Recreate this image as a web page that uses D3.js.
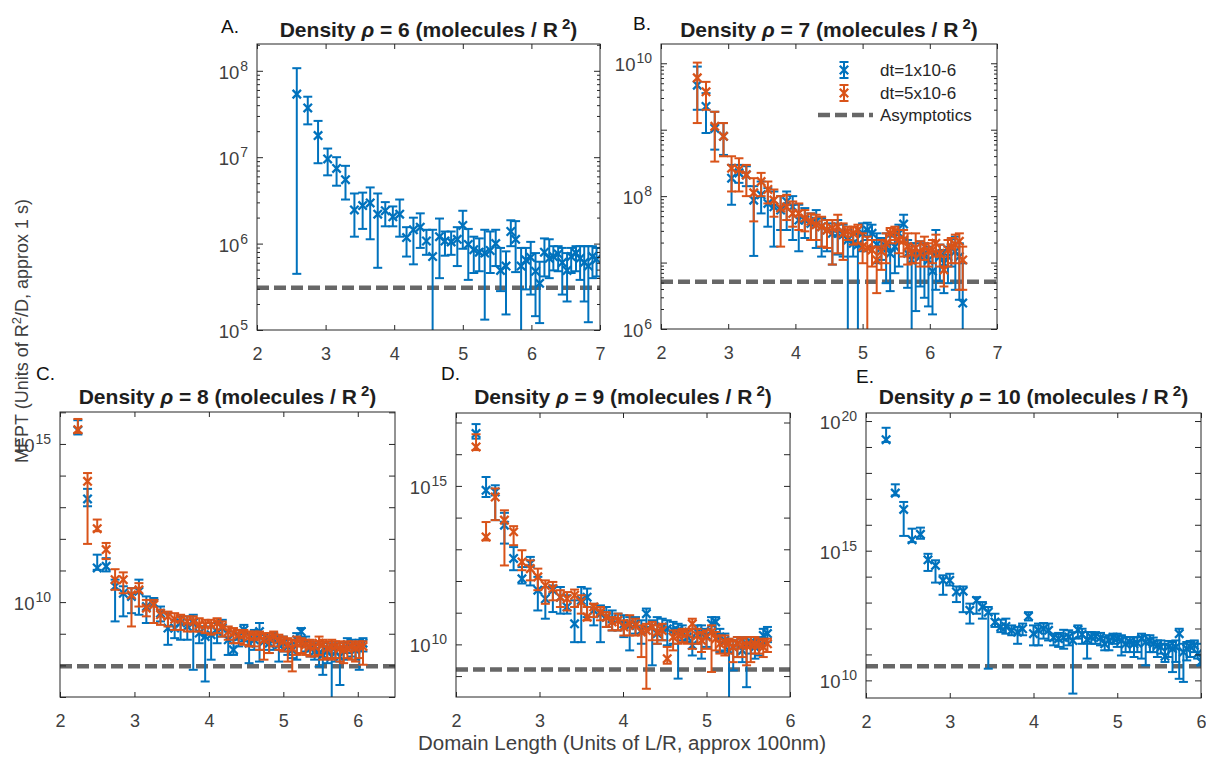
<!DOCTYPE html>
<html>
<head>
<meta charset="utf-8">
<script src="https://cdn.jsdelivr.net/npm/d3@7"></script>
<style>
  body { margin: 0; background: #fff; }
</style>
</head>
<body>
<svg id="chart" width="1206" height="757"></svg>
<script>
// MFPT vs domain length, five densities. y values are stored as log10(MFPT).
const densities = [6, 7, 8, 9, 10];
const panelLetters = ['A.', 'B.', 'C.', 'D.', 'E.'];
const seriesNames = ['dt=1x10-6', 'dt=5x10-6', 'Asymptotics'];
const asymptoteLog = [5.49, 6.71, 7.97, 9.21, 10.54];

// A: rho = 6 (only dt=1e-6)
const lenA = [2.58,2.74,2.89,3.03,3.16,3.29,3.42,3.54,3.65,3.76,3.87,3.98,4.08,4.18,4.28,4.38,4.47,4.56,4.66,4.74,4.83,4.92,5.00,5.08,5.16,5.24,5.32,5.40,5.48,5.55,5.63,5.70,5.77,5.85,5.92,5.99,6.06,6.12,6.19,6.26,6.32,6.39,6.45,6.52,6.58,6.65,6.71,6.77,6.83,6.89,6.95];
const meanA1 = [7.73,7.57,7.25,6.98,6.87,6.74,6.39,6.44,6.47,6.34,6.38,6.31,6.34,6.07,6.16,6.19,6.03,5.85,6.08,6.03,6.02,6.05,6.21,5.99,5.93,5.90,5.89,5.92,6.00,5.69,5.74,6.14,6.05,5.74,5.81,5.84,5.68,5.54,5.90,5.83,5.85,5.88,5.78,5.69,5.85,5.89,5.83,5.78,5.74,5.85,5.82];
const hiA1 = [8.03,7.70,7.42,7.10,7.00,6.90,6.58,6.59,6.65,6.58,6.48,6.43,6.51,6.19,6.30,6.35,6.16,6.16,6.29,6.14,6.14,6.19,6.38,6.17,6.08,6.06,6.16,6.14,6.16,5.95,5.91,6.27,6.26,5.95,5.95,6.02,5.89,5.79,6.06,6.05,5.97,5.97,5.95,5.89,5.95,5.97,5.97,5.97,5.97,5.97,5.95];
const loA1 = [5.65,7.38,6.93,6.79,6.67,6.51,6.08,6.17,6.05,5.72,6.20,6.20,6.08,5.85,5.76,5.95,5.87,4.5,5.60,5.86,5.87,5.74,5.94,5.58,5.66,5.68,5.12,5.66,5.74,5.45,5.18,5.97,5.67,4.5,5.47,5.41,5.16,5.08,5.62,5.60,5.69,5.68,5.41,5.33,5.66,5.68,5.58,5.33,5.09,5.60,5.62];

// B: rho = 7
const lenB = [2.54,2.67,2.80,2.93,3.05,3.16,3.27,3.38,3.49,3.59,3.68,3.78,3.87,3.96,4.05,4.14,4.23,4.31,4.39,4.47,4.55,4.63,4.71,4.78,4.86,4.93,5.00,5.07,5.14,5.21,5.28,5.35,5.41,5.48,5.54,5.61,5.67,5.73,5.79,5.86,5.92,5.98,6.04,6.09,6.15,6.21,6.27,6.32,6.38,6.44,6.49];
const meanB1 = [9.67,9.35,9.02,8.90,8.27,8.35,8.32,7.94,8.02,7.89,7.84,7.79,7.92,7.84,7.64,7.64,7.59,7.62,7.54,7.49,7.44,7.44,7.42,7.34,7.29,7.27,7.44,7.49,7.44,7.27,7.22,7.24,7.14,7.24,7.44,7.58,7.14,7.04,7.12,7.09,7.14,7.04,6.87,7.14,7.09,6.99,7.09,7.22,7.17,7.09,6.39];
const hiB1 = [9.95,9.55,9.27,9.10,8.47,8.47,8.45,8.15,8.22,8.12,8.07,8.00,8.07,8.00,7.87,7.82,7.74,7.79,7.67,7.64,7.59,7.64,7.57,7.49,7.44,7.42,7.59,7.60,7.57,7.44,7.37,7.44,7.39,7.42,7.57,7.72,7.34,7.29,7.29,7.32,7.29,7.24,7.14,7.49,7.27,7.19,7.24,7.35,7.39,7.29,6.99];
const loB1 = [9.30,8.95,8.70,8.62,7.87,8.20,8.15,7.10,7.74,7.54,7.24,7.49,7.49,7.34,7.17,7.37,7.34,7.22,7.09,7.17,6.97,7.12,7.09,5.5,7.09,5.5,7.17,7.34,7.24,6.99,7.04,6.69,6.57,6.84,6.94,7.37,6.62,5.5,6.27,6.64,6.47,6.34,6.22,6.59,6.72,6.54,6.69,6.94,6.59,6.44,5.5];
const meanB5 = [9.78,9.57,9.05,8.90,8.42,8.40,8.32,8.05,8.22,8.10,7.94,7.82,7.84,7.74,7.74,7.67,7.62,7.57,7.54,7.49,7.52,7.54,7.44,7.47,7.44,7.49,7.24,7.22,7.19,7.04,7.17,7.29,7.44,7.47,7.34,7.34,7.24,7.14,7.22,7.14,7.24,7.17,7.19,7.29,7.14,6.89,7.19,7.24,7.27,7.32,7.04];
const hiB5 = [10.01,9.72,9.27,9.10,8.60,8.57,8.47,8.27,8.35,8.22,8.10,8.00,8.02,7.92,7.89,7.79,7.74,7.72,7.69,7.64,7.64,7.72,7.59,7.54,7.54,7.57,7.44,7.39,7.34,7.24,7.34,7.44,7.52,7.54,7.49,7.49,7.44,7.24,7.44,7.32,7.39,7.29,7.34,7.42,7.27,7.09,7.34,7.37,7.42,7.44,7.24];
const loB5 = [9.10,9.30,8.52,8.60,8.07,8.07,8.00,7.62,8.00,7.89,7.69,7.24,7.64,7.54,7.49,7.47,7.34,7.34,7.24,7.22,6.97,7.14,7.04,7.34,7.27,7.29,6.99,5.5,6.94,6.54,6.89,6.99,7.29,7.34,7.14,7.09,6.97,6.99,6.99,6.94,7.04,6.94,6.99,7.09,6.94,6.64,6.94,6.99,6.99,6.59,6.59];

// C: rho = 8
const lenC = [2.24,2.37,2.50,2.62,2.74,2.85,2.96,3.06,3.16,3.26,3.35,3.45,3.54,3.62,3.71,3.79,3.87,3.95,4.03,4.11,4.18,4.26,4.33,4.40,4.47,4.54,4.61,4.68,4.74,4.81,4.87,4.94,5.00,5.06,5.12,5.18,5.24,5.30,5.36,5.42,5.48,5.53,5.59,5.65,5.70,5.76,5.81,5.86,5.92,5.97,6.02,6.07];
const meanC1 = [15.43,13.26,11.08,11.13,10.50,10.28,10.18,10.34,9.86,9.97,9.65,9.18,9.18,9.34,9.23,9.34,9.02,8.91,8.97,9.07,9.18,8.81,8.49,8.91,9.12,8.70,8.81,9.07,8.76,8.70,8.81,8.65,8.70,8.60,8.49,8.81,9.07,8.70,8.54,8.44,8.39,8.33,8.44,8.28,8.44,8.28,8.49,8.65,8.60,8.49,8.54,8.70];
const hiC1 = [15.75,13.58,11.50,11.39,10.71,10.50,10.44,10.71,10.18,10.13,9.86,9.65,9.44,9.55,9.55,9.60,9.23,9.23,9.34,9.34,9.44,9.07,8.81,9.12,9.28,8.97,9.12,9.34,8.97,8.91,9.02,8.91,8.91,8.81,8.70,9.02,9.18,8.91,8.76,8.70,8.65,8.60,8.70,8.60,8.70,8.60,8.70,8.86,8.81,8.70,8.81,8.86];
const loC1 = [15.30,13.03,11.02,10.97,9.39,9.55,9.65,9.60,9.34,9.34,9.39,8.65,8.86,8.81,8.81,7.86,8.70,7.49,8.18,8.70,8.91,8.33,8.33,8.60,8.76,8.07,8.49,8.12,8.49,8.39,8.49,8.12,8.44,8.33,8.23,8.18,8.86,8.44,8.28,8.18,7.96,7.70,8.07,6.9,8.12,7.38,8.18,8.39,8.28,8.18,7.86,8.44];
const meanC5 = [15.45,13.82,12.32,11.66,10.71,10.71,10.23,10.39,9.81,9.92,9.60,9.55,9.46,9.46,9.39,9.39,9.28,9.28,9.28,9.34,9.23,9.07,9.02,8.97,8.97,8.91,8.91,8.91,8.81,8.86,8.91,8.81,8.76,8.65,8.54,8.70,8.70,8.65,8.60,8.60,8.70,8.65,8.54,8.60,8.60,8.54,8.49,8.54,8.60,8.54,8.60,8.60];
const hiC5 = [15.79,14.08,12.61,11.87,11.04,10.94,10.44,10.60,10.07,10.07,9.76,9.70,9.65,9.60,9.55,9.55,9.49,9.44,9.44,9.49,9.39,9.23,9.18,9.12,9.12,9.07,9.07,9.07,9.02,9.02,9.07,8.97,8.91,8.86,8.81,8.91,8.86,8.81,8.81,8.76,8.91,8.81,8.76,8.81,8.76,8.76,8.70,8.76,8.76,8.70,8.76,8.76];
const loC5 = [15.35,11.84,12.24,11.36,10.39,10.28,9.23,9.86,9.55,9.34,9.28,9.23,9.12,9.12,9.07,9.07,9.07,9.02,8.97,9.02,8.91,8.81,8.70,8.70,8.65,8.60,8.60,8.49,8.18,8.39,8.60,8.49,8.44,8.12,7.81,8.33,8.39,8.33,8.28,8.28,8.33,8.18,8.23,8.18,8.23,8.12,8.07,8.23,8.18,8.12,8.23,8.02];

// D: rho = 9
const lenD = [2.24,2.36,2.47,2.58,2.69,2.79,2.89,2.98,3.07,3.16,3.25,3.33,3.42,3.50,3.57,3.65,3.73,3.80,3.87,3.94,4.01,4.08,4.15,4.22,4.28,4.35,4.41,4.47,4.53,4.60,4.66,4.71,4.77,4.83,4.89,4.94,5.00,5.06,5.11,5.16,5.22,5.27,5.32,5.37,5.43,5.48,5.53,5.58,5.63,5.68,5.73];
const meanD1 = [16.65,14.86,14.81,13.76,12.71,12.07,12.55,11.71,11.44,11.71,11.49,11.18,10.65,11.39,11.49,11.07,10.97,10.86,10.81,10.76,10.65,10.60,10.65,10.44,10.97,10.55,10.34,10.55,10.49,10.44,10.44,10.39,10.23,9.97,10.39,10.34,10.28,10.65,10.71,10.23,10.13,9.81,9.92,10.02,9.81,10.02,10.07,9.92,10.07,10.28,10.34];
const hiD1 = [16.95,15.28,15.02,14.15,13.07,12.44,12.76,12.13,11.81,11.86,11.81,11.55,11.39,11.81,11.76,11.28,11.23,11.18,11.07,10.97,10.92,10.86,10.86,10.76,11.13,10.76,10.86,10.81,10.76,10.71,10.65,10.60,10.44,10.23,10.60,10.60,10.49,10.86,10.86,10.49,10.34,10.13,10.13,10.23,10.18,10.23,10.23,10.13,10.23,10.49,10.55];
const loD1 = [16.49,14.65,13.92,13.18,12.34,11.92,11.86,11.07,10.81,11.02,10.97,10.97,10.07,10.07,10.86,10.60,10.07,10.55,10.44,10.44,10.23,9.81,10.34,10.02,10.55,9.34,10.02,10.13,9.97,10.02,8.92,10.13,10.07,9.65,10.02,9.55,9.92,10.34,10.34,9.76,9.81,8.2,9.18,9.60,9.44,8.65,9.71,9.55,9.65,10.02,10.07];
const meanD5 = [16.23,13.39,14.65,13.92,13.55,12.60,12.39,12.13,11.86,11.76,11.49,11.44,11.55,11.34,10.86,11.18,11.02,10.86,10.71,10.76,10.55,10.65,10.60,10.39,10.44,10.55,10.39,10.44,9.55,10.23,10.28,10.34,10.34,10.65,10.28,10.13,10.23,10.39,10.18,10.02,10.07,10.02,9.92,10.02,9.97,9.97,9.97,10.02,9.97,9.92,10.02];
const hiD5 = [16.63,13.86,14.92,14.23,13.73,12.97,12.65,12.39,12.02,11.97,11.71,11.65,11.73,11.55,11.18,11.28,11.18,11.02,10.86,10.97,10.76,10.92,10.81,10.60,10.65,10.71,10.60,10.65,9.92,10.44,10.44,10.49,10.49,10.81,10.49,10.39,10.44,10.60,10.39,10.28,10.28,10.18,10.13,10.23,10.18,10.23,10.23,10.23,10.18,10.13,10.18];
const loD5 = [16.13,13.28,13.92,12.49,13.13,12.34,12.02,11.71,11.28,11.39,11.18,11.07,11.18,10.97,10.76,10.86,10.76,10.55,10.44,10.44,10.28,10.28,10.28,9.60,8.60,10.13,10.02,10.13,9.39,9.81,10.02,10.07,10.02,9.86,10.02,9.76,9.86,9.13,9.81,9.71,9.65,9.71,9.44,9.60,9.60,9.34,9.44,9.71,9.71,9.60,9.76];

// E: rho = 10 (only dt=1e-6)
const lenE = [2.24,2.35,2.45,2.55,2.65,2.74,2.83,2.92,3.00,3.08,3.16,3.24,3.32,3.39,3.46,3.54,3.61,3.67,3.74,3.81,3.87,3.94,4.00,4.06,4.12,4.18,4.24,4.30,4.36,4.42,4.47,4.53,4.58,4.64,4.69,4.74,4.80,4.85,4.90,4.95,5.00,5.05,5.10,5.15,5.20,5.24,5.29,5.34,5.39,5.43,5.48,5.52,5.57,5.61,5.66,5.70,5.74,5.79,5.83,5.87,5.92,5.96,6.00];
const meanE1 = [19.28,17.22,16.59,15.42,15.63,14.65,14.43,13.86,13.86,13.41,13.44,12.70,13.08,12.83,12.63,12.25,12.06,12.08,11.93,11.86,11.99,12.47,11.80,11.93,11.99,11.93,11.65,11.61,11.65,11.67,11.54,11.95,11.77,11.57,11.67,11.70,11.65,11.41,11.54,11.65,11.61,11.54,11.41,11.48,11.41,11.44,11.61,11.48,11.52,11.41,11.35,11.29,10.93,11.29,11.22,11.29,11.80,11.09,11.22,11.31,11.35,11.03,10.71];
const hiE1 = [19.74,17.56,16.88,15.85,15.89,14.88,14.63,14.05,14.11,13.62,13.62,12.96,13.21,13.02,12.83,12.57,12.34,12.38,12.12,12.06,12.19,12.63,12.12,12.19,12.21,12.19,11.80,11.83,11.95,11.93,11.86,12.12,11.99,11.86,11.86,11.86,11.83,11.67,11.74,11.80,11.80,11.74,11.67,11.67,11.65,11.67,11.80,11.74,11.74,11.65,11.54,11.54,11.41,11.52,11.48,11.54,11.99,11.41,11.48,11.52,11.54,11.41,11.00];
const loE1 = [19.19,17.13,15.57,15.33,15.46,14.22,13.77,13.30,13.66,13.02,12.63,12.19,12.57,12.38,10.45,12.06,11.86,11.80,11.74,11.41,11.74,12.31,11.35,11.35,11.61,11.54,11.35,11.29,11.22,11.35,9.49,11.61,11.41,10.84,11.41,11.41,11.35,11.16,11.16,11.41,11.29,10.96,11.09,11.09,10.90,11.09,10.84,10.58,11.09,11.09,10.90,11.03,10.71,10.90,10.32,10.71,10.06,9.94,10.77,10.90,11.09,10.84,10.58];

const BLUE = '#0072BD', ORANGE = '#D95319', GRAY = '#676767', INK = '#262626', TICKTXT = '#404040';
const FONT = '"Liberation Sans", Arial, Helvetica, sans-serif';

// axes boxes in page pixels, log10 y ranges, which decades get labels
const layout = [
  {x0: 257, x1: 600, y0: 44, y1: 330, xMax: 7,   yLog: [5, 8.31],     labelDec: [5, 6, 7, 8],  dense: true,  xTicks: [2,3,4,5,6,7], letter: [221, 33], titleY: 37},
  {x0: 661, x1: 997, y0: 44, y1: 329, xMax: 7,   yLog: [6, 10.29],    labelDec: [6, 8, 10],    dense: true,  xTicks: [2,3,4,5,6,7], letter: [633, 30], titleY: 37},
  {x0: 60,  x1: 395, y0: 412, y1: 697, xMax: 6.5, yLog: [7, 16.01],   labelDec: [10, 15],      dense: false, xTicks: [2,3,4,5,6],   letter: [36, 380], titleY: 404},
  {x0: 456, x1: 790, y0: 413, y1: 697, xMax: 6,   yLog: [8.34, 17.3], labelDec: [10, 15],      dense: false, xTicks: [2,3,4,5,6],   letter: [441, 380], titleY: 404},
  {x0: 866, x1: 1201, y0: 413, y1: 698, xMax: 6,  yLog: [9.32, 20.31], labelDec: [10, 15, 20], dense: false, xTicks: [2,3,4,5,6],   letter: [856, 383], titleY: 404}
];

const panelSeries = [
  {len: lenA, series: [[meanA1, hiA1, loA1, BLUE]]},
  {len: lenB, series: [[meanB1, hiB1, loB1, BLUE], [meanB5, hiB5, loB5, ORANGE]]},
  {len: lenC, series: [[meanC1, hiC1, loC1, BLUE], [meanC5, hiC5, loC5, ORANGE]]},
  {len: lenD, series: [[meanD1, hiD1, loD1, BLUE], [meanD5, hiD5, loD5, ORANGE]]},
  {len: lenE, series: [[meanE1, hiE1, loE1, BLUE]]}
];

const svg = d3.select('#chart').attr('font-family', FONT);
const defs = svg.append('defs');

function errorMark(sel, xf, yLo, yHi, yMid) {
  sel.append('line').attr('x1', xf).attr('x2', xf).attr('y1', yLo).attr('y2', yHi);
  sel.append('line').attr('x1', d => xf(d) - 4.5).attr('x2', d => xf(d) + 4.5).attr('y1', yHi).attr('y2', yHi);
  sel.append('line').attr('x1', d => xf(d) - 4.5).attr('x2', d => xf(d) + 4.5).attr('y1', yLo).attr('y2', yLo);
  sel.append('path').attr('stroke-width', 2.3).attr('d', d => {
    const cx = xf(d), cy = yMid(d), s = 4.2;
    return `M${cx - s},${cy - s}L${cx + s},${cy + s}M${cx - s},${cy + s}L${cx + s},${cy - s}`;
  });
}

function drawPanel(i) {
  const L = layout[i], P = panelSeries[i];
  const x = d3.scaleLinear().domain([2, L.xMax]).range([L.x0, L.x1]);
  const y = d3.scaleLog().domain([Math.pow(10, L.yLog[0]), Math.pow(10, L.yLog[1])]).range([L.y1, L.y0]);
  const g = svg.append('g');

  defs.append('clipPath').attr('id', 'clip' + i)
    .append('rect').attr('x', L.x0).attr('y', L.y0).attr('width', L.x1 - L.x0).attr('height', L.y1 - L.y0);
  const plot = g.append('g').attr('clip-path', `url(#clip${i})`);

  // asymptote
  plot.append('line')
    .attr('x1', L.x0).attr('x2', L.x1)
    .attr('y1', y(Math.pow(10, asymptoteLog[i]))).attr('y2', y(Math.pow(10, asymptoteLog[i])))
    .attr('stroke', GRAY).attr('stroke-width', 4.5).attr('stroke-dasharray', '12,5');

  P.series.forEach(([mean, hi, lo, color]) => {
    const pts = P.len.map((v, k) => ({x: v, m: mean[k], h: hi[k], l: lo[k]}));
    const sg = plot.append('g').attr('stroke', color).attr('stroke-width', 2).attr('fill', 'none');
    const pg = sg.selectAll('g').data(pts).join('g');
    errorMark(pg, d => x(d.x),
      d => y(Math.pow(10, d.l)), d => y(Math.pow(10, d.h)), d => y(Math.pow(10, d.m)));
  });

  // ticks
  const decades = d3.range(Math.ceil(L.yLog[0] - 1e-9), Math.floor(L.yLog[1]) + 1);
  const minors = [];
  if (L.dense) {
    decades.concat([decades[0] - 1]).forEach(dd => {
      for (let k = 2; k <= 9; k++) {
        const v = Math.log10(k) + dd;
        if (v > L.yLog[0] && v < L.yLog[1]) minors.push(Math.pow(10, v));
      }
    });
  }
  const major = decades.map(dd => Math.pow(10, dd));
  const styleAxis = a => { a.select('.domain').remove(); a.attr('color', INK); };

  g.append('g').attr('transform', `translate(0,${L.y1})`)
    .call(d3.axisBottom(x).tickValues(L.xTicks).tickSize(-5).tickPadding(17).tickFormat(d3.format('d')))
    .call(styleAxis)
    .call(a => a.selectAll('text').attr('font-size', 18).attr('font-family', FONT).attr('fill', TICKTXT));
  g.append('g').attr('transform', `translate(0,${L.y0})`)
    .call(d3.axisTop(x).tickValues(L.xTicks).tickSize(-5).tickFormat(''))
    .call(styleAxis);
  g.append('g').attr('transform', `translate(${L.x0},0)`)
    .call(d3.axisLeft(y).tickValues(major).tickSize(-6).tickFormat(''))
    .call(styleAxis);
  g.append('g').attr('transform', `translate(${L.x1},0)`)
    .call(d3.axisRight(y).tickValues(major).tickSize(-6).tickFormat(''))
    .call(styleAxis);
  if (minors.length) {
    g.append('g').attr('transform', `translate(${L.x0},0)`)
      .call(d3.axisLeft(y).tickValues(minors).tickSize(-3).tickFormat(''))
      .call(styleAxis);
    g.append('g').attr('transform', `translate(${L.x1},0)`)
      .call(d3.axisRight(y).tickValues(minors).tickSize(-3).tickFormat(''))
      .call(styleAxis);
  }

  // y tick labels 10^n
  L.labelDec.forEach(dd => {
    const t = g.append('text').attr('x', L.x0 - 9).attr('y', y(Math.pow(10, dd)) + 8)
      .attr('text-anchor', 'end').attr('fill', TICKTXT).attr('font-size', 18.5);
    t.append('tspan').text('10');
    t.append('tspan').attr('dx', 1).attr('dy', -8).attr('font-size', 14).text(dd);
  });

  // box
  g.append('rect').attr('x', L.x0).attr('y', L.y0)
    .attr('width', L.x1 - L.x0).attr('height', L.y1 - L.y0)
    .attr('fill', 'none').attr('stroke', INK).attr('stroke-width', 1);

  // title
  const tt = g.append('text').attr('x', (L.x0 + L.x1) / 2).attr('y', L.titleY)
    .attr('text-anchor', 'middle').attr('font-weight', 'bold').attr('font-size', 21).attr('fill', '#1e1e1e');
  tt.append('tspan').text('Density ');
  tt.append('tspan').attr('font-style', 'italic').text('\u03C1');
  tt.append('tspan').text(` = ${densities[i]} (molecules / R`);
  tt.append('tspan').attr('dx', 4).attr('dy', -8).attr('font-size', 15).text('2');
  tt.append('tspan').attr('dy', 8).text(')');

  g.append('text').attr('x', L.letter[0]).attr('y', L.letter[1])
    .attr('font-size', 19).attr('fill', '#111').text(panelLetters[i]);
}

layout.forEach((_, i) => drawPanel(i));

// legend in panel B
const leg = svg.append('g');
const legRows = [
  {y: 70, color: BLUE, name: seriesNames[0]},
  {y: 93, color: ORANGE, name: seriesNames[1]}
];
legRows.forEach(r => {
  const lg = leg.append('g').attr('stroke', r.color).attr('stroke-width', 2).attr('fill', 'none');
  const s = lg.selectAll('g').data([r]).join('g');
  errorMark(s, () => 844, d => d.y + 8, d => d.y - 8, d => d.y);
  leg.append('text').attr('x', 880).attr('y', r.y + 6).attr('font-size', 17).attr('fill', INK).text(r.name);
});
leg.append('line').attr('x1', 818).attr('x2', 873).attr('y1', 115).attr('y2', 115)
  .attr('stroke', GRAY).attr('stroke-width', 4.5).attr('stroke-dasharray', '12,5');
leg.append('text').attr('x', 880).attr('y', 121).attr('font-size', 17).attr('fill', INK).text(seriesNames[2]);

// shared axis labels
const yl = svg.append('text').attr('transform', 'translate(28,331) rotate(-90)')
  .attr('text-anchor', 'middle').attr('font-size', 18).attr('fill', TICKTXT);
yl.append('tspan').text('MFPT (Units of R');
yl.append('tspan').attr('dy', -7).attr('font-size', 13).text('2');
yl.append('tspan').attr('dy', 7).text('/D, approx 1 s)');

svg.append('text').attr('x', 622).attr('y', 750).attr('text-anchor', 'middle')
  .attr('font-size', 20.5).attr('fill', TICKTXT).text('Domain Length (Units of L/R, approx 100nm)');
</script>
